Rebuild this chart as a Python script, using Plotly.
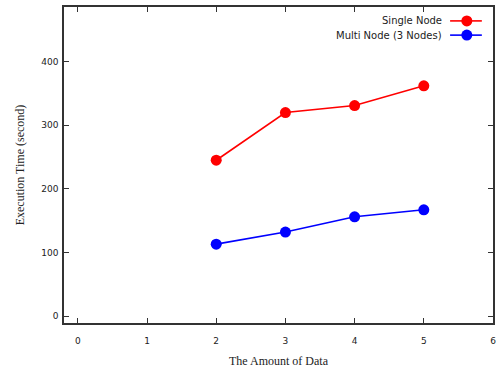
import plotly.graph_objects as go

x_vals = [2, 3, 4, 5]
single_node = [245, 320, 331, 362]
multi_node = [113, 132, 156, 167]
series_names = ["Single Node", "Multi Node (3 Nodes)"]
series_colors = ["#ff0000", "#0000ff"]
x_ticks = [0, 1, 2, 3, 4, 5, 6]
y_ticks = [0, 100, 200, 300, 400]

fig = go.Figure()
for name, vals, col in zip(series_names, [single_node, multi_node], series_colors):
    fig.add_trace(go.Scatter(x=x_vals, y=vals, mode="lines+markers", name=name,
                             line=dict(color=col, width=1.6),
                             marker=dict(color=col, size=11, symbol="circle"),
                             showlegend=False))

# custom legend (text left of sample, as in reference)
leg_y = [0.956, 0.911]
shapes = []
annotations = []
for name, col, yy in zip(series_names, series_colors, leg_y):
    annotations.append(dict(x=0.886, y=yy, xref="paper", yref="paper", text=name,
                            showarrow=False, xanchor="right", yanchor="middle",
                            font=dict(family="DejaVu Sans", size=10, color="#222")))
    shapes.append(dict(type="line", xref="paper", yref="paper", x0=0.900, x1=0.974,
                       y0=yy, y1=yy, line=dict(color=col, width=1.6)))
    shapes.append(dict(type="circle", xref="paper", yref="paper", xsizemode="pixel",
                       ysizemode="pixel", xanchor=0.939, yanchor=yy,
                       x0=-5.5, x1=5.5, y0=-5.5, y1=5.5,
                       fillcolor=col, line=dict(color=col, width=0)))

axis_common = dict(showline=True, linecolor="#333", linewidth=1.5, mirror="ticks",
                   ticks="inside", ticklen=5, tickcolor="#333", showgrid=False,
                   zeroline=False, tickfont=dict(family="DejaVu Sans", size=9, color="#222"))

fig.update_layout(
    width=499, height=374,
    margin=dict(l=64, r=6, t=7, b=51),
    paper_bgcolor="white", plot_bgcolor="white",
    shapes=shapes, annotations=annotations,
    hovermode=False,
    xaxis=dict(range=[-0.2, 6.0], tickvals=x_ticks, automargin=False,
               ticklabelstandoff=8,
               title=dict(text="The Amount of Data", standoff=12,
                          font=dict(family="Liberation Serif", size=12, color="#222")),
               **axis_common),
    yaxis=dict(range=[-11, 486], tickvals=y_ticks, automargin=False,
               ticklabelstandoff=2,
               title=dict(text="Execution Time (second)", standoff=14,
                          font=dict(family="Liberation Serif", size=12, color="#222")),
               **axis_common),
)

fig.write_html("out.html", config={"displayModeBar": False},
               post_script="document.body.style.margin='0px';")
